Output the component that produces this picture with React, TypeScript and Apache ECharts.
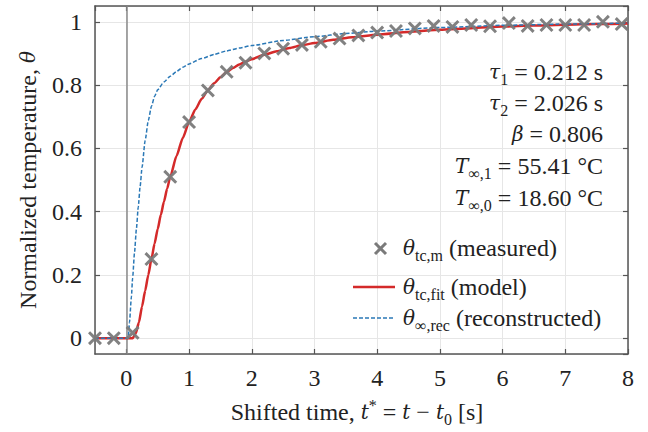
import React, { useEffect, useRef } from "react";
import * as echarts from "echarts";

// ---- data ----
const measuredT = [-0.5, -0.2, 0.1, 0.4, 0.7, 1.0, 1.3, 1.6, 1.9, 2.2, 2.5, 2.8, 3.1, 3.4, 3.7, 4.0, 4.3, 4.6, 4.9, 5.2, 5.5, 5.8, 6.1, 6.4, 6.7, 7.0, 7.3, 7.6, 7.9];
const measuredTheta = [0, 0, 0.017, 0.25, 0.51, 0.683, 0.783, 0.842, 0.871, 0.9, 0.915, 0.927, 0.937, 0.947, 0.957, 0.966, 0.971, 0.979, 0.987, 0.984, 0.99, 0.986, 0.996, 0.987, 0.99, 0.99, 0.99, 1.0, 0.993];

const modelT = [-0.5, 0.1, 0.15, 0.2, 0.25, 0.3, 0.35, 0.4, 0.45, 0.5, 0.55, 0.6, 0.65, 0.7, 0.8, 0.9, 1.0, 1.1, 1.2, 1.3, 1.4, 1.5, 1.6, 1.7, 1.8, 1.9, 2.0, 2.2, 2.4, 2.6, 2.8, 3.0, 3.3, 3.6, 4.0, 4.5, 5.0, 5.5, 6.0, 6.5, 7.0, 7.5, 8.0];
const modelTheta = [0, 0, 0.015, 0.05, 0.1, 0.15, 0.2, 0.25, 0.299, 0.345, 0.39, 0.432, 0.472, 0.51, 0.576, 0.633, 0.683, 0.723, 0.756, 0.783, 0.806, 0.825, 0.841, 0.854, 0.865, 0.874, 0.882, 0.896, 0.907, 0.917, 0.926, 0.933, 0.943, 0.951, 0.959, 0.968, 0.975, 0.98, 0.985, 0.988, 0.991, 0.993, 0.995];

const recT = [-0.5, 0.03, 0.05, 0.08, 0.1, 0.13, 0.16, 0.19, 0.22, 0.25, 0.3, 0.35, 0.4, 0.45, 0.5, 0.6, 0.7, 0.8, 0.9, 1.0, 1.2, 1.4, 1.6, 1.8, 2.0, 2.5, 3.0, 3.5, 4.0, 5.0, 6.0, 7.0, 8.0];
const recTheta = [0, 0, 0.05, 0.13, 0.19, 0.27, 0.345, 0.415, 0.48, 0.54, 0.625, 0.688, 0.733, 0.764, 0.785, 0.81, 0.828, 0.843, 0.856, 0.867, 0.884, 0.897, 0.908, 0.917, 0.925, 0.941, 0.953, 0.963, 0.971, 0.982, 0.989, 0.993, 0.996];

const paramLines = [
  "{i|τ}{s|1}{n| = 0.212 s}",
  "{i|τ}{s|2}{n| = 2.026 s}",
  "{i|β}{n| = 0.806}",
  "{i|T}{s|∞,1}{n| = 55.41 °C}",
  "{i|T}{s|∞,0}{n| = 18.60 °C}",
];
const legendLabels = [
  "{i|θ}{s|tc,m}{n| (measured)}",
  "{i|θ}{s|tc,fit}{n| (model)}",
  "{i|θ}{s|∞,rec}{n| (reconstructed)}",
];

const FONT = "Liberation Serif";
const IFONT = "DejaVu Serif";
const TXT = "#222";
const RED = "#d42a2a";
const BLUE = "#2a78b6";
const GRAY = "#7a7a7a";
const AXIS = "#555";
const XPATH = "path://M1.5,0L5,3.5L8.5,0L10,1.5L6.5,5L10,8.5L8.5,10L5,6.5L1.5,10L0,8.5L3.5,5L0,1.5Z";

const rich = {
  n: { fontFamily: FONT, fontSize: 24, fill: TXT, lineHeight: 30 },
  i: { fontFamily: IFONT, fontSize: 20, fill: TXT, lineHeight: 30, fontStyle: "italic" },
  s: { fontFamily: FONT, fontSize: 16, fill: TXT, lineHeight: 16, verticalAlign: "bottom" },
  sup: { fontFamily: FONT, fontSize: 16, fill: TXT, lineHeight: 16, verticalAlign: "top" },
};

const pairs = (xs: number[], ys: number[]) => xs.map((x, k) => [x, ys[k]]);

export default function App() {
  const ref = useRef<HTMLDivElement>(null);
  useEffect(() => {
    document.body.style.margin = "0";
    const chart = echarts.init(ref.current!, null, { renderer: "svg" });
    const axisCommon = {
      type: "value" as const,
      axisLine: { show: true, onZero: false, lineStyle: { color: AXIS, width: 1.5 } },
      axisTick: { show: true, inside: true, length: 5, lineStyle: { color: AXIS, width: 1.2 } },
    };
    const paramY = [72, 103, 134, 166, 198];
    const legendY = [248, 287, 318];
    const graphic: any[] = [];
    paramLines.forEach((t, k) =>
      graphic.push({
        type: "text",
        x: 603,
        y: paramY[k],
        style: { text: t, rich, align: "right", verticalAlign: "middle", fontFamily: FONT, fontSize: 24 },
        z: 100,
      })
    );
    legendLabels.forEach((t, k) =>
      graphic.push({
        type: "text",
        x: 403,
        y: legendY[k],
        style: { text: t, rich, align: "left", verticalAlign: "middle", fontFamily: FONT, fontSize: 24 },
        z: 100,
      })
    );
    graphic.push(
      { type: "line", shape: { x1: 375, y1: 243, x2: 386, y2: 254 }, style: { stroke: GRAY, lineWidth: 3 }, z: 100 },
      { type: "line", shape: { x1: 375, y1: 254, x2: 386, y2: 243 }, style: { stroke: GRAY, lineWidth: 3 }, z: 100 },
      { type: "line", shape: { x1: 353, y1: 287, x2: 395, y2: 287 }, style: { stroke: RED, lineWidth: 2.5 }, z: 100 },
      { type: "line", shape: { x1: 353, y1: 318, x2: 395, y2: 318 }, style: { stroke: BLUE, lineWidth: 1.5, lineDash: [4, 2] }, z: 100 },
      {
        type: "text",
        x: 28,
        y: 180,
        rotation: Math.PI / 2,
        style: { text: "{n|Normalized temperature, }{i|θ}", rich, align: "center", verticalAlign: "middle", fontFamily: FONT, fontSize: 24 },
      },
      {
        type: "text",
        x: 357,
        y: 412,
        style: {
          text: "{n|Shifted time, }{i|t}{sup|*}{n| = }{i|t}{n| − }{i|t}{s|0}{n| [s]}",
          rich,
          align: "center",
          verticalAlign: "middle",
          fontFamily: FONT,
          fontSize: 24,
        },
      }
    );

    chart.setOption({
      animation: false,
      grid: { left: 95, right: 20, top: 6, bottom: 78 },
      xAxis: [
        {
          ...axisCommon,
          position: "bottom",
          min: -0.5,
          max: 8,
          splitNumber: 8,
          axisLabel: { margin: 12, showMinLabel: false, fontFamily: FONT, fontSize: 24, color: TXT },
          splitLine: { show: true, lineStyle: { color: "#e6e6e6", width: 1 } },
        },
        {
          ...axisCommon,
          position: "top",
          min: -0.5,
          max: 8,
          splitNumber: 8,
          axisLabel: { show: false },
          splitLine: { show: false },
        },
      ],
      yAxis: [
        {
          ...axisCommon,
          position: "left",
          min: -0.05,
          max: 1.05,
          splitNumber: 6,
          axisLabel: { margin: 13, showMinLabel: false, showMaxLabel: false, fontFamily: FONT, fontSize: 24, color: TXT },
          splitLine: { show: true, lineStyle: { color: "#e6e6e6", width: 1 } },
        },
        {
          ...axisCommon,
          position: "right",
          min: -0.05,
          max: 1.05,
          splitNumber: 6,
          axisLabel: { show: false },
          splitLine: { show: false },
        },
      ],
      graphic,
      series: [
        {
          type: "line",
          data: pairs(modelT, modelTheta),
          showSymbol: false,
          smooth: 0.2,
          smoothMonotone: "x",
          lineStyle: { color: RED, width: 2.5 },
          z: 3,
          markLine: {
            silent: true,
            symbol: ["none", "none"],
            label: { show: false },
            lineStyle: { color: "#8a8a8a", width: 1.5, type: "solid" },
            data: [{ xAxis: 0 }],
            z: 1,
          },
        },
        {
          type: "line",
          data: pairs(recT, recTheta),
          showSymbol: false,
          smooth: 0.2,
          smoothMonotone: "x",
          lineStyle: { color: BLUE, width: 1.5, type: [4, 2] },
          z: 4,
        },
        {
          type: "scatter",
          data: pairs(measuredT, measuredTheta),
          symbol: XPATH,
          symbolSize: 14,
          itemStyle: { color: GRAY, opacity: 0.95 },
          z: 5,
        },
      ],
    });
    return () => chart.dispose();
  }, []);
  return <div ref={ref} style={{ width: 648, height: 432 }} />;
}
